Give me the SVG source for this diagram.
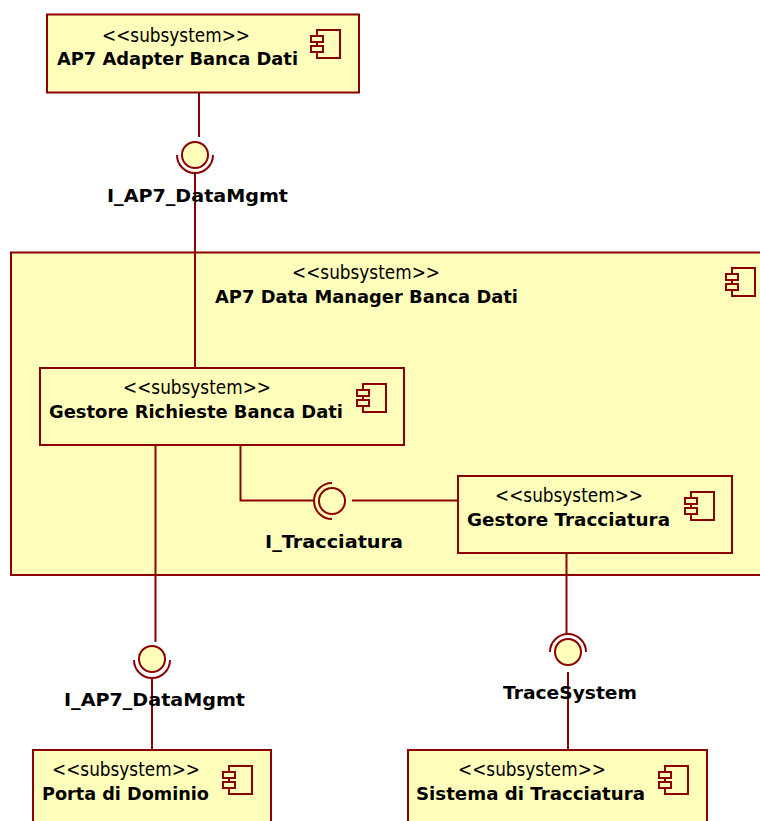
<svg xmlns="http://www.w3.org/2000/svg" xmlns:xlink="http://www.w3.org/1999/xlink" width="760" height="821" viewBox="0 0 760 821">
<style>
.b{fill:#ffffbb;stroke:#8b0000;stroke-width:2}
.l{fill:none;stroke:#8b0000;stroke-width:2}
.s{font-family:"DejaVu Sans",Verdana,sans-serif;font-size:20px;fill:#000}
.t{font-family:"DejaVu Sans",Verdana,sans-serif;font-size:18.500px;font-weight:bold;fill:#000}
</style>
<defs>
<g id="icon">
<rect class="l" x="6" y="0" width="23" height="28"/>
<rect class="b" x="0" y="6" width="12" height="6"/>
<rect class="b" x="0" y="16" width="12" height="6"/>
</g>
</defs>
<rect width="760" height="821" fill="#fff"/>
<g id="ap7-data-manager">
<rect class="b" x="11" y="252.500" width="760" height="322.500"/>
<use xlink:href="#icon" x="726" y="268"/>
<text class="s" x="292" y="279" textLength="148" lengthAdjust="spacingAndGlyphs">&lt;&lt;subsystem&gt;&gt;</text>
<text class="t" x="215" y="303" textLength="303" lengthAdjust="spacingAndGlyphs">AP7 Data Manager Banca Dati</text>
</g>
<g id="ap7-adapter">
<rect class="b" x="47" y="14.500" width="312" height="78"/>
<use xlink:href="#icon" x="311" y="30"/>
<text class="s" x="102" y="42" textLength="148" lengthAdjust="spacingAndGlyphs">&lt;&lt;subsystem&gt;&gt;</text>
<text class="t" x="57" y="65" textLength="241" lengthAdjust="spacingAndGlyphs">AP7 Adapter Banca Dati</text>
</g>
<g id="gestore-richieste">
<rect class="b" x="40" y="368" width="364" height="77"/>
<use xlink:href="#icon" x="357" y="384"/>
<text class="s" x="123" y="394" textLength="148" lengthAdjust="spacingAndGlyphs">&lt;&lt;subsystem&gt;&gt;</text>
<text class="t" x="49" y="418" textLength="294" lengthAdjust="spacingAndGlyphs">Gestore Richieste Banca Dati</text>
</g>
<g id="gestore-tracciatura">
<rect class="b" x="458" y="476" width="274" height="77"/>
<use xlink:href="#icon" x="685" y="492"/>
<text class="s" x="495" y="502" textLength="148" lengthAdjust="spacingAndGlyphs">&lt;&lt;subsystem&gt;&gt;</text>
<text class="t" x="467" y="526" textLength="203" lengthAdjust="spacingAndGlyphs">Gestore Tracciatura</text>
</g>
<g id="porta-di-dominio">
<rect class="b" x="33" y="750" width="238" height="90"/>
<use xlink:href="#icon" x="223" y="766"/>
<text class="s" x="52" y="776" textLength="148" lengthAdjust="spacingAndGlyphs">&lt;&lt;subsystem&gt;&gt;</text>
<text class="t" x="42" y="800" textLength="167" lengthAdjust="spacingAndGlyphs">Porta di Dominio</text>
</g>
<g id="sistema-tracciatura">
<rect class="b" x="408" y="750" width="299" height="90"/>
<use xlink:href="#icon" x="659" y="766"/>
<text class="s" x="458" y="776" textLength="148" lengthAdjust="spacingAndGlyphs">&lt;&lt;subsystem&gt;&gt;</text>
<text class="t" x="416" y="800" textLength="229" lengthAdjust="spacingAndGlyphs">Sistema di Tracciatura</text>
</g>
<g id="connectors">
<path class="l" d="M199 92V137"/>
<path class="l" d="M195 173V368"/>
<path class="l" d="M155.500 445V642"/>
<path class="l" d="M152 678V750"/>
<path class="l" d="M240.500 445V500.500H314"/>
<path class="l" d="M352 500.500H458"/>
<path class="l" d="M566.500 553V634"/>
<path class="l" d="M568 672V750"/>
</g>
<g id="i-ap7-datamgmt-top">
<path class="l" d="M177 155A18 18 0 0 0 213 155"/>
<circle class="b" cx="195" cy="155" r="13"/>
<text class="t" x="107" y="202" textLength="181" lengthAdjust="spacingAndGlyphs">I_AP7_DataMgmt</text>
</g>
<g id="i-tracciatura">
<path class="l" d="M332 483A18 18 0 0 0 332 519"/>
<circle class="b" cx="332" cy="501" r="13"/>
<text class="t" x="265" y="548" textLength="138" lengthAdjust="spacingAndGlyphs">I_Tracciatura</text>
</g>
<g id="i-ap7-datamgmt-bottom">
<path class="l" d="M134 660A18 18 0 0 0 170 660"/>
<circle class="b" cx="152" cy="659" r="13"/>
<text class="t" x="64" y="706" textLength="181" lengthAdjust="spacingAndGlyphs">I_AP7_DataMgmt</text>
</g>
<g id="tracesystem">
<path class="l" d="M550 652A18 18 0 0 1 586 652"/>
<circle class="b" cx="568" cy="652" r="13"/>
<text class="t" x="503" y="699" textLength="134" lengthAdjust="spacingAndGlyphs">TraceSystem</text>
</g>
</svg>
